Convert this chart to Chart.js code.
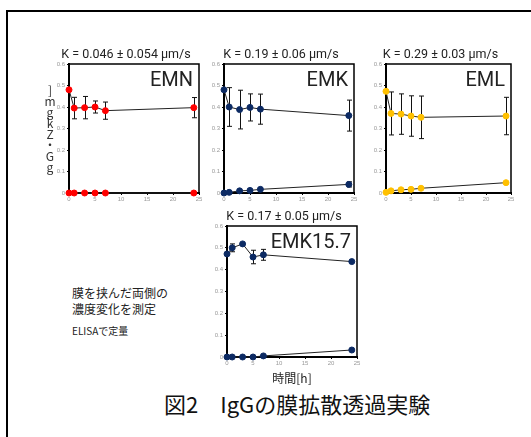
<!DOCTYPE html>
<html lang="ja">
<head>
<meta charset="utf-8">
<script src="https://cdn.jsdelivr.net/npm/chart.js@4"></script>
<style>
  html, body { margin: 0; padding: 0; background: #fff; }
  body { width: 531px; height: 437px; position: relative; overflow: hidden;
         font-family: "Noto Sans CJK JP", "Noto Sans", sans-serif; color: #222; }
  .frame { position: absolute; left: 6px; top: 10px; width: 540px; height: 440px;
           border-top: 2px solid #000; border-left: 2px solid #000; }
  canvas { position: absolute; }
  .note { position: absolute; white-space: nowrap; }
  .ylab { position: absolute; left: 44px; top: 84px; width: 12px; font-size: 12px;
          line-height: 11px; text-align: center; color: #333; }
</style>
</head>
<body>
<div class="frame"></div>

<canvas id="emn" width="162" height="158" style="left:53px;top:47px"></canvas>
<canvas id="emk" width="162" height="158" style="left:208px;top:47px"></canvas>
<canvas id="eml" width="157" height="158" style="left:370px;top:47px"></canvas>
<canvas id="emk157" width="162" height="177" style="left:211px;top:209px"></canvas>

<div class="ylab">]<br>m<br>g<br>k<br>Z<br>・<br>G<br>g</div>

<div class="note" style="left:72px;top:284px;font-size:12px">膜を挟んだ両側の</div>
<div class="note" style="left:72px;top:300px;font-size:12px">濃度変化を測定</div>
<div class="note" style="left:72px;top:323px;font-size:10px">ELISAで定量</div>
<div class="note" style="left:164px;top:387px;font-size:22px;color:#111">図2　IgGの膜拡散透過実験</div>

<script>
// sampling times [h]
const times = [0, 1, 3, 5, 7, 24];

// EMN
const emnUpper = [0.48, 0.395, 0.397, 0.40, 0.383, 0.397];
const emnUpperErr = [0, 0.05, 0.052, 0.028, 0.04, 0.047];
const emnLower = [0, 0, 0, 0, 0, 0];
const emnLowerErr = [0, 0, 0, 0, 0, 0];

// EMK
const emkUpper = [0.48, 0.40, 0.388, 0.398, 0.39, 0.36];
const emkUpperErr = [0, 0.09, 0.09, 0.063, 0.07, 0.072];
const emkLower = [0, 0.003, 0.01, 0.012, 0.017, 0.04];
const emkLowerErr = [0, 0, 0, 0, 0, 0.012];

// EML
const emlUpper = [0.473, 0.37, 0.367, 0.358, 0.352, 0.358];
const emlUpperErr = [0, 0.1, 0.094, 0.094, 0.099, 0.087];
const emlLower = [0.003, 0.01, 0.015, 0.017, 0.022, 0.048];
const emlLowerErr = [0, 0, 0, 0, 0, 0];

// EMK15.7
const emk157Upper = [0.472, 0.50, 0.518, 0.458, 0.468, 0.437];
const emk157UpperErr = [0, 0.018, 0, 0.031, 0.025, 0];
const emk157Lower = [0, 0, 0, 0, 0.005, 0.032];
const emk157LowerErr = [0, 0, 0, 0, 0, 0];

const xTicks = { min: 0, max: 25, step: 5 };
const yTicks = { min: 0, max: 0.6, step: 0.1 };

const RED = "#ff0000", NAVY = "#0c2a63", GOLD = "#ffc000";

// error bars, frame box and the big panel label
const panelExtras = {
    id: "panelExtras",
    beforeDatasetsDraw(chart) {
        const { ctx, scales: { x, y } } = chart;
        ctx.save();
        ctx.strokeStyle = "#111";
        ctx.lineWidth = 1;
        chart.data.datasets.forEach(ds => {
            ds.data.forEach((p, i) => {
                const e = ds.errors[i];
                if (!e) return;
                const px = Math.round(x.getPixelForValue(p.x)) + 0.5;
                const top = y.getPixelForValue(p.y + e);
                const bot = y.getPixelForValue(p.y - e);
                ctx.beginPath();
                ctx.moveTo(px, top); ctx.lineTo(px, bot);
                ctx.moveTo(px - 2.5, top); ctx.lineTo(px + 2.5, top);
                ctx.moveTo(px - 2.5, bot); ctx.lineTo(px + 2.5, bot);
                ctx.stroke();
            });
        });
        ctx.restore();
    },
    afterDraw(chart, args, opts) {
        const { ctx, chartArea: a } = chart;
        ctx.save();
        ctx.strokeStyle = "#000";
        ctx.lineWidth = 1.5;
        ctx.beginPath();
        ctx.moveTo(a.left, a.top); ctx.lineTo(a.right, a.top); ctx.lineTo(a.right, a.bottom);
        ctx.stroke();
        ctx.fillStyle = "#222";
        ctx.font = "20px Roboto, sans-serif";
        ctx.textAlign = "right";
        ctx.textBaseline = "alphabetic";
        ctx.fillText(opts.label, a.right - 6, a.top + 22);
        ctx.restore();
    }
};

function series(values, errors, color) {
    return {
        data: times.map((t, i) => ({ x: t, y: values[i] })),
        errors,
        showLine: true,
        borderColor: "#222",
        borderWidth: 1,
        pointRadius: 3,
        pointBackgroundColor: color,
        pointBorderColor: color,
        clip: false
    };
}

function makePanel(id, title, label, color, upper, upperErr, lower, lowerErr, xTitle) {
    const ctx = document.getElementById(id).getContext("2d");
    return new Chart(ctx, {
        type: "scatter",
        data: {
            datasets: [
                series(upper, upperErr, color),
                series(lower, lowerErr, color)
            ]
        },
        plugins: [panelExtras],
        options: {
            responsive: false,
            animation: false,
            layout: { padding: { left: 0, right: 16, top: 0, bottom: 0 } },
            plugins: {
                legend: { display: false },
                tooltip: { enabled: false },
                title: {
                    display: true,
                    text: title,
                    color: "#222",
                    font: { size: 12.5, family: "Roboto, sans-serif", weight: "normal" },
                    padding: { top: 0, bottom: 2 }
                },
                panelExtras: { label }
            },
            scales: {
                x: {
                    type: "linear",
                    min: xTicks.min,
                    max: xTicks.max,
                    ticks: { stepSize: xTicks.step, color: "#999", font: { size: 6 }, padding: 1, maxRotation: 0 },
                    grid: { drawOnChartArea: false, tickLength: 2, color: "#000" },
                    border: { color: "#000", width: 2 },
                    title: {
                        display: !!xTitle,
                        text: xTitle || "",
                        color: "#222",
                        font: { size: 12, family: "'Noto Sans CJK JP', sans-serif" },
                        padding: 0
                    },
                    afterFit: s => { s.height = xTitle ? 29 : 12; }
                },
                y: {
                    min: yTicks.min,
                    max: yTicks.max,
                    ticks: { stepSize: yTicks.step, color: "#999", font: { size: 6 }, padding: 2 },
                    grid: { drawOnChartArea: false, tickLength: 2, color: "#000" },
                    border: { color: "#000", width: 2 },
                    afterFit: s => { s.width = 16; }
                }
            }
        }
    });
}

makePanel("emn", "K = 0.046 ± 0.054 µm/s", "EMN", RED, emnUpper, emnUpperErr, emnLower, emnLowerErr);
makePanel("emk", "K = 0.19 ± 0.06 µm/s", "EMK", NAVY, emkUpper, emkUpperErr, emkLower, emkLowerErr);
makePanel("eml", "K = 0.29 ± 0.03 µm/s", "EML", GOLD, emlUpper, emlUpperErr, emlLower, emlLowerErr);
makePanel("emk157", "K = 0.17 ± 0.05 µm/s", "EMK15.7", NAVY, emk157Upper, emk157UpperErr, emk157Lower, emk157LowerErr, "時間[h]");
</script>
</body>
</html>
